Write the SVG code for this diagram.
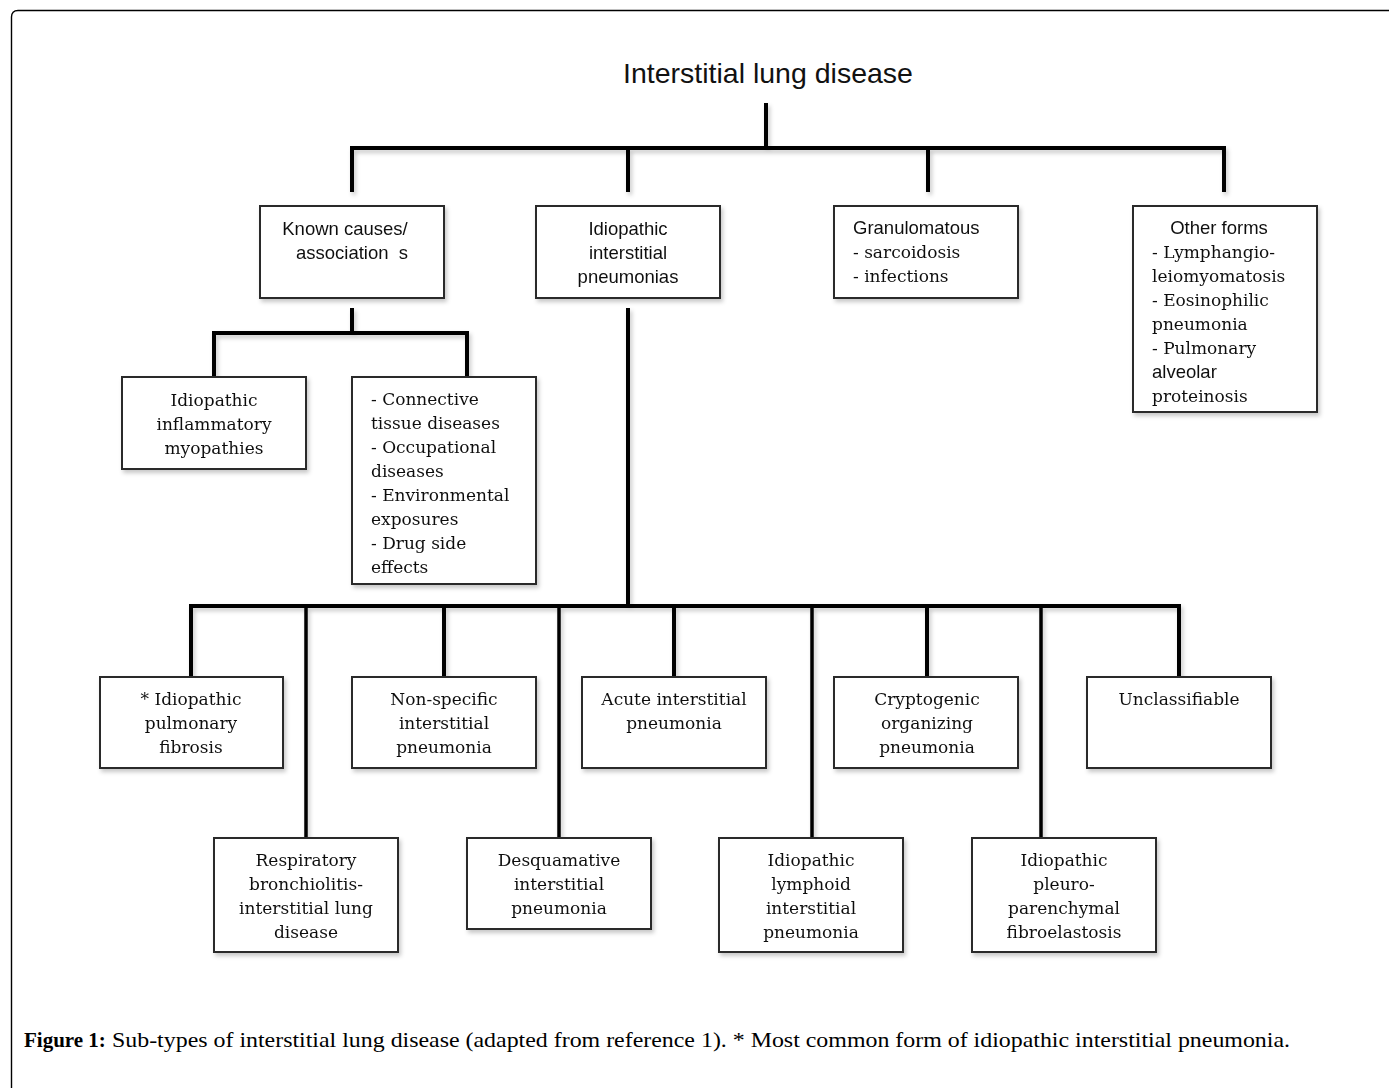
<svg xmlns="http://www.w3.org/2000/svg" width="1389" height="1088" viewBox="0 0 1389 1088">
<defs>
<filter id="sh" x="-10%" y="-10%" width="130%" height="130%">
<feDropShadow dx="2" dy="3" stdDeviation="2" flood-color="#000" flood-opacity="0.22"/>
</filter>
<style>
.box{fill:#fff;stroke:#2a2a2a;stroke-width:2}
.sans{font-family:"Liberation Sans",Arial,sans-serif;font-size:18.5px;fill:#111}
.serif{font-family:"DejaVu Serif","Liberation Serif",serif;font-size:17px;fill:#111}
.c{text-anchor:middle}
.conn{fill:none;stroke:#000;stroke-width:4;stroke-linejoin:miter}
.thin{fill:none;stroke:#000;stroke-width:3.5}
</style>
</defs>
<rect x="0" y="0" width="1389" height="1088" fill="#fff"/>
<path d="M11.5,1088 V17 Q11.5,10.5 18,10.5 H1389" fill="none" stroke="#000" stroke-width="1.4"/>

<text x="768" y="83" class="sans c" style="font-size:28.5px">Interstitial lung disease</text>

<g id="connectors" filter="url(#sh)">
<path class="conn" d="M766,103 V148"/>
<path class="conn" d="M352,192 V148 H1224 V192"/>
<path class="conn" d="M628,148 V192"/>
<path class="conn" d="M928,148 V192"/>
<path class="conn" d="M352,308 V333"/>
<path class="conn" d="M214,377 V333 H467 V377"/>
<path class="conn" d="M628,308 V606"/>
<path class="conn" d="M191,677 V606 H1179 V677"/>
<path class="conn" d="M444,606 V677"/>
<path class="conn" d="M674,606 V677"/>
<path class="conn" d="M927,606 V677"/>
<path class="thin" d="M306,606 V838"/>
<path class="thin" d="M559,606 V838"/>
<path class="thin" d="M812,606 V838"/>
<path class="thin" d="M1041,606 V838"/>
</g>

<g id="known" filter="url(#sh)">
<rect class="box" x="260" y="206" width="184" height="92"/>
<text class="sans c" x="345" y="235">Known causes/</text>
<text class="sans c" x="352" y="259" xml:space="preserve">association  s</text>
</g>
<g id="iip" filter="url(#sh)">
<rect class="box" x="536" y="206" width="184" height="92"/>
<text class="sans c" x="628" y="235">Idiopathic</text>
<text class="sans c" x="628" y="259">interstitial</text>
<text class="sans c" x="628" y="283">pneumonias</text>
</g>
<g id="granulomatous" filter="url(#sh)">
<rect class="box" x="834" y="206" width="184" height="92"/>
<text class="sans" x="853" y="234">Granulomatous</text>
<text class="serif" x="853" y="258">- sarcoidosis</text>
<text class="serif" x="853" y="282">- infections</text>
</g>
<g id="other" filter="url(#sh)">
<rect class="box" x="1133" y="206" width="184" height="206"/>
<text class="sans c" x="1219" y="234">Other forms</text>
<text class="serif" x="1152" y="258">- Lymphangio-</text>
<text class="serif" x="1152" y="282">leiomyomatosis</text>
<text class="serif" x="1152" y="306">- Eosinophilic</text>
<text class="serif" x="1152" y="330">pneumonia</text>
<text class="serif" x="1152" y="354">- Pulmonary</text>
<text class="sans" x="1152" y="378">alveolar</text>
<text class="serif" x="1152" y="402">proteinosis</text>
</g>

<g id="iim" filter="url(#sh)">
<rect class="box" x="122" y="377" width="184" height="92"/>
<text class="serif c" x="214" y="406">Idiopathic</text>
<text class="serif c" x="214" y="430">inflammatory</text>
<text class="serif c" x="214" y="454">myopathies</text>
</g>
<g id="causes" filter="url(#sh)">
<rect class="box" x="352" y="377" width="184" height="207"/>
<text class="serif" x="371" y="405">- Connective</text>
<text class="serif" x="371" y="429">tissue diseases</text>
<text class="serif" x="371" y="453">- Occupational</text>
<text class="serif" x="371" y="477">diseases</text>
<text class="serif" x="371" y="501">- Environmental</text>
<text class="serif" x="371" y="525">exposures</text>
<text class="serif" x="371" y="549">- Drug side</text>
<text class="serif" x="371" y="573">effects</text>
</g>

<g id="ipf" filter="url(#sh)">
<rect class="box" x="100" y="677" width="183" height="91"/>
<text class="serif c" x="191" y="705">* Idiopathic</text>
<text class="serif c" x="191" y="729">pulmonary</text>
<text class="serif c" x="191" y="753">fibrosis</text>
</g>
<g id="nsip" filter="url(#sh)">
<rect class="box" x="352" y="677" width="184" height="91"/>
<text class="serif c" x="444" y="705">Non-specific</text>
<text class="serif c" x="444" y="729">interstitial</text>
<text class="serif c" x="444" y="753">pneumonia</text>
</g>
<g id="aip" filter="url(#sh)">
<rect class="box" x="582" y="677" width="184" height="91"/>
<text class="serif c" x="674" y="705">Acute interstitial</text>
<text class="serif c" x="674" y="729">pneumonia</text>
</g>
<g id="cop" filter="url(#sh)">
<rect class="box" x="834" y="677" width="184" height="91"/>
<text class="serif c" x="927" y="705">Cryptogenic</text>
<text class="serif c" x="927" y="729">organizing</text>
<text class="serif c" x="927" y="753">pneumonia</text>
</g>
<g id="unclass" filter="url(#sh)">
<rect class="box" x="1087" y="677" width="184" height="91"/>
<text class="serif c" x="1179" y="705">Unclassifiable</text>
</g>

<g id="rbild" filter="url(#sh)">
<rect class="box" x="214" y="838" width="184" height="114"/>
<text class="serif c" x="306" y="866">Respiratory</text>
<text class="serif c" x="306" y="890">bronchiolitis-</text>
<text class="serif c" x="306" y="914">interstitial lung</text>
<text class="serif c" x="306" y="938">disease</text>
</g>
<g id="dip" filter="url(#sh)">
<rect class="box" x="467" y="838" width="184" height="91"/>
<text class="serif c" x="559" y="866">Desquamative</text>
<text class="serif c" x="559" y="890">interstitial</text>
<text class="serif c" x="559" y="914">pneumonia</text>
</g>
<g id="lip" filter="url(#sh)">
<rect class="box" x="719" y="838" width="184" height="114"/>
<text class="serif c" x="811" y="866">Idiopathic</text>
<text class="serif c" x="811" y="890">lymphoid</text>
<text class="serif c" x="811" y="914">interstitial</text>
<text class="serif c" x="811" y="938">pneumonia</text>
</g>
<g id="ppfe" filter="url(#sh)">
<rect class="box" x="972" y="838" width="184" height="114"/>
<text class="serif c" x="1064" y="866">Idiopathic</text>
<text class="serif c" x="1064" y="890">pleuro-</text>
<text class="serif c" x="1064" y="914">parenchymal</text>
<text class="serif c" x="1064" y="938">fibroelastosis</text>
</g>

<text x="24" y="1047" style="font-family:'Liberation Serif','Times New Roman',serif;font-size:21px;font-weight:bold;fill:#000">Figure 1:</text>
<text x="112" y="1047" textLength="1178" lengthAdjust="spacingAndGlyphs" style="font-family:'Liberation Serif','Times New Roman',serif;font-size:21px;fill:#000">Sub-types of interstitial lung disease (adapted from reference 1). * Most common form of idiopathic interstitial pneumonia.</text>
</svg>
